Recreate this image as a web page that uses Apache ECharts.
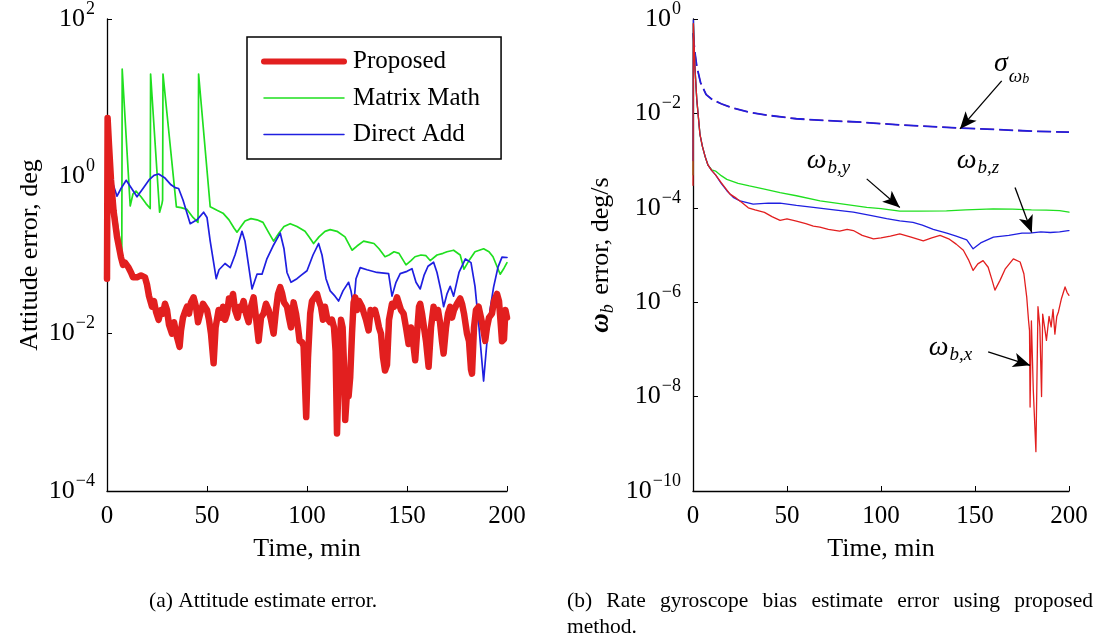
<!DOCTYPE html>
<html><head><meta charset="utf-8">
<script src="https://cdn.jsdelivr.net/npm/echarts@6/dist/echarts.min.js"></script>
<style>html,body{margin:0;padding:0;background:#fff}#c{width:1098px;height:639px}</style>
</head><body><div id="c"></div>
<script>
// ---------- data (time in min, errors) ----------
const xTicks = [0, 50, 100, 150, 200];
const legendNames = ['Proposed', 'Matrix Math', 'Direct Add'];

// (a) attitude error, deg
const proposed = [[0,0.05],[0.3,5.5],[1,2.5],[2,0.9],[3.3,0.36],[5,0.17],[7,0.093],[8,0.075],[9,0.08],[10.8,0.069],[12,0.06],[13,0.052],[15,0.052],[16,0.05],[17,0.055],[19,0.052],[20,0.042],[21,0.03],[22.5,0.022],[23.5,0.026],[24.5,0.019],[25.8,0.015],[27,0.02],[28,0.018],[29,0.024],[30,0.02],[31,0.013],[32.5,0.01],[33.5,0.014],[35,0.009],[36.3,0.0068],[37,0.011],[38,0.016],[39,0.019],[40,0.022],[41,0.018],[42,0.025],[43.3,0.029],[44.5,0.022],[45.5,0.014],[46.6,0.018],[48,0.024],[49,0.024],[50,0.02],[51,0.015],[52,0.01],[53.3,0.0042],[54.3,0.012],[55.8,0.02],[57,0.016],[58,0.022],[59,0.015],[60,0.018],[61,0.028],[62,0.024],[63,0.032],[64,0.02],[65.3,0.016],[66.3,0.022],[67,0.02],[68.3,0.026],[69.5,0.018],[70.8,0.014],[72,0.022],[73.3,0.029],[74.5,0.016],[75.8,0.0081],[77,0.016],[78.3,0.018],[79.5,0.024],[80.8,0.02],[82,0.015],[83.3,0.01],[84.5,0.02],[85.5,0.032],[86.6,0.039],[87.5,0.033],[88.5,0.025],[90,0.022],[91,0.016],[92,0.012],[93.3,0.025],[94.5,0.018],[95.5,0.012],[96.3,0.0081],[97.5,0.0078],[98.3,0.007],[99.6,0.00087],[100.5,0.005],[101.6,0.018],[102.5,0.026],[103.5,0.025],[105,0.032],[106,0.026],[107,0.022],[108,0.015],[109,0.022],[110,0.016],[111.5,0.014],[112.5,0.015],[113.5,0.012],[114.3,0.006],[115,0.00054],[116,0.004],[117,0.015],[117.8,0.012],[118.5,0.004],[119.1,0.0008],[120,0.0018],[120.8,0.0016],[121.6,0.0028],[122.5,0.01],[123.3,0.025],[124.1,0.029],[125,0.02],[126,0.026],[127.5,0.022],[128.5,0.018],[129.5,0.015],[130.8,0.011],[131.8,0.02],[133,0.018],[134,0.02],[135,0.016],[136,0.012],[137,0.01],[138,0.005],[139,0.0034],[140,0.004],[141,0.015],[142.5,0.024],[143.5,0.022],[145,0.029],[146,0.024],[147,0.02],[148.3,0.018],[149.5,0.012],[150.8,0.0074],[152,0.012],[153,0.008],[154.1,0.0046],[155,0.01],[156,0.022],[156.6,0.024],[157.5,0.018],[158.5,0.012],[159.5,0.008],[160.8,0.0038],[162,0.012],[163.3,0.022],[164.5,0.016],[165.5,0.02],[166.5,0.014],[167.5,0.008],[168.3,0.0056],[169.5,0.012],[170.5,0.018],[171.6,0.022],[172.5,0.016],[173.5,0.02],[175,0.024],[176.6,0.028],[177.5,0.024],[178.5,0.018],[180,0.01],[181,0.008],[182,0.0035],[182.5,0.0031],[183.5,0.012],[184.5,0.02],[185.8,0.022],[187,0.016],[188,0.012],[189.1,0.0081],[190,0.012],[191,0.016],[192.5,0.018],[193.5,0.026],[195,0.032],[196,0.026],[197,0.012],[197.5,0.008],[198.5,0.0085],[199.2,0.02],[200,0.016]];

const matrixMath = [[0,0.05],[0.3,1.6],[2,0.9],[4,0.4],[6,0.18],[7.4,0.11],[7.6,23],[11.6,0.42],[13,0.6],[14.5,0.65],[17,0.55],[19.5,0.45],[21.6,0.39],[21.8,20],[26.3,0.35],[27.5,0.45],[27.8,0.5],[28,20],[34.7,0.41],[37,0.4],[40,0.38],[43,0.3],[45.5,0.26],[45.8,20],[51.6,0.41],[55,0.37],[58,0.34],[61,0.28],[63.5,0.22],[65,0.195],[67,0.23],[69,0.27],[72,0.29],[75,0.28],[78,0.26],[80.5,0.2],[83.3,0.15],[86,0.19],[88.5,0.23],[91.6,0.25],[95,0.23],[99,0.2],[101,0.17],[103.3,0.14],[106,0.17],[109,0.2],[111.6,0.21],[115,0.2],[119,0.17],[122.5,0.115],[125,0.13],[128.3,0.15],[131,0.145],[133.5,0.14],[136,0.12],[139,0.095],[141,0.1],[143.5,0.11],[146,0.105],[149.5,0.075],[152,0.085],[154,0.095],[157,0.1],[159.5,0.098],[161.6,0.085],[165,0.1],[168,0.105],[170,0.11],[173.3,0.115],[176.6,0.1],[178.5,0.066],[181,0.085],[184,0.11],[188.3,0.12],[191,0.11],[193,0.095],[196.6,0.057],[198.5,0.068],[200,0.08]];

const directAdd = [[0,0.05],[0.3,2.8],[1.5,1.5],[3,0.8],[5,0.56],[7,0.7],[9.6,0.89],[12,0.72],[15,0.55],[18,0.7],[21,0.9],[23.5,1.03],[25.8,1.07],[29,0.95],[32,0.78],[34,0.72],[35.8,0.7],[38,0.5],[41.6,0.25],[45,0.28],[48.3,0.35],[50,0.3],[51.6,0.15],[54.6,0.05],[56,0.065],[59,0.078],[61.6,0.069],[64,0.1],[67.5,0.2],[69,0.15],[72.5,0.037],[75,0.057],[77.5,0.057],[80,0.09],[83,0.13],[86.6,0.19],[88.5,0.12],[90,0.06],[92,0.045],[95,0.05],[97,0.055],[100,0.063],[103,0.1],[105.8,0.14],[107.5,0.1],[109.5,0.05],[111.6,0.035],[114,0.03],[115.8,0.026],[118,0.035],[120.8,0.045],[122,0.035],[123.3,0.022],[124.5,0.05],[126.6,0.069],[130,0.065],[135,0.06],[140.8,0.058],[142.5,0.03],[144.5,0.045],[146.6,0.058],[150,0.062],[152.5,0.067],[154.5,0.045],[156.6,0.037],[158.5,0.055],[160.5,0.072],[163.3,0.081],[165,0.06],[167,0.035],[168.3,0.022],[170,0.032],[171.6,0.04],[173.3,0.03],[176,0.06],[179.2,0.089],[182,0.08],[184,0.04],[186,0.012],[188.3,0.0025],[190,0.008],[191.5,0.02],[193.3,0.039],[195.5,0.07],[197.5,0.094],[200,0.093]];

// (b) gyro bias error, deg/s
const sigmaBound = [[0,0.5],[1,0.2],[2,0.1],[4,0.045],[7,0.025],[10,0.02],[15,0.016],[20,0.0135],[30,0.0105],[40,0.0091],[55,0.0077],[70,0.0071],[90,0.0065],[110,0.0057],[130,0.0052],[142,0.0049],[160,0.0046],[180,0.0042],[200,0.004]];

const biasX = [[0,3e-4],[0.2,0.8],[1,0.1],[2,0.02],[3.7,3.6e-3],[5,2e-3],[6.5,1.2e-3],[8,8e-4],[9.9,6.2e-4],[12,5e-4],[15,3.4e-4],[19.7,1.95e-4],[23,1.6e-4],[26,1.3e-4],[29.4,1.0e-4],[33,9e-5],[38,8e-5],[42,6.5e-5],[46.3,5.4e-5],[50,5.8e-5],[55,5.2e-5],[60,4.6e-5],[64,4.1e-5],[67.5,3.9e-5],[72,3.5e-5],[78,3.2e-5],[82,3.5e-5],[85.3,3.3e-5],[90,2.6e-5],[96,2.2e-5],[100,2.3e-5],[105,2.5e-5],[110,2.8e-5],[116,2.4e-5],[122.5,2.0e-5],[127,2.3e-5],[131.4,2.6e-5],[136,2.2e-5],[140,1.7e-5],[143.8,1.26e-5],[146.5,8e-6],[149,4.7e-6],[151.5,6.5e-6],[154.3,7.6e-6],[157,5.5e-6],[159,3e-6],[160.6,1.8e-6],[163.3,2.9e-6],[166,5e-6],[170.4,8.3e-6],[174,7.1e-6],[176,4e-6],[177.5,1.3e-6],[178.5,4e-7],[179,2.5e-7],[179.3,6e-9],[180,4e-7],[181,1.4e-8],[182.4,6.8e-10],[183.5,8e-7],[184.5,3e-7],[185.4,1e-8],[186,5.6e-7],[187,3e-7],[188,1.55e-7],[189.4,5e-7],[190.5,3e-7],[191.5,7e-7],[192.5,2.1e-7],[193.5,5e-7],[194.4,6.3e-7],[196,1.2e-6],[197.9,2.1e-6],[199,1.6e-6],[200,1.4e-6]];

const biasY = [[0,5e-4],[0.2,0.8],[1,0.1],[2,0.02],[3.7,3.6e-3],[5,2e-3],[6.5,1.2e-3],[8,8e-4],[9.9,6.4e-4],[12,6e-4],[15,4.8e-4],[18,4e-4],[24,3.3e-4],[30,2.9e-4],[38,2.5e-4],[46.3,2.1e-4],[55,1.8e-4],[67.6,1.4e-4],[80,1.2e-4],[92.4,1.02e-4],[100,9.6e-5],[110,8.5e-5],[120,8.5e-5],[134.8,8.6e-5],[145,9e-5],[159.7,9.5e-5],[170,9.4e-5],[180,9e-5],[188,8.9e-5],[195,8.7e-5],[200,8.1e-5]];

const biasZ = [[0,1e-3],[0.2,0.95],[1,0.1],[2,0.02],[3.7,3.6e-3],[5,2e-3],[6.5,1.2e-3],[8,8e-4],[9.9,6.2e-4],[12,5e-4],[15,3.3e-4],[18,2.3e-4],[21.4,1.66e-4],[25,1.4e-4],[32,1.2e-4],[40,1.25e-4],[46.3,1.26e-4],[55,1.12e-4],[64,1.02e-4],[75,9e-5],[85.3,8.1e-5],[95,6.8e-5],[103,5.9e-5],[110,5.3e-5],[117,4.9e-5],[122,4.3e-5],[127.8,3.5e-5],[135,2.9e-5],[140,2.5e-5],[145.6,2.1e-5],[149,1.35e-5],[153,1.8e-5],[159.8,2.4e-5],[168,2.6e-5],[175,2.9e-5],[179,2.9e-5],[185,3.1e-5],[190,3.0e-5],[195,3.1e-5],[199.6,3.3e-5],[200,3.3e-5]];

// annotation arrows (tail -> head) and label anchors in data space
const arrows = [
  [[164.2, 0.049], [142, 0.0047]],
  [[92.4, 4.1e-4], [110, 1.02e-4]],
  [[171.3, 2.7e-4], [180.2, 3.0e-5]],
  [[157, 8.9e-8], [179.3, 4.6e-8]]
];
const annoLabels = [
  { at: [169.5, 0.112], main: 'σ', sub: 'ω', sub2: 'b', drop: 26 },
  { at: [72, 1.0e-3], main: 'ω', sub: 'b,y', drop: 15 },
  { at: [151.6, 1.0e-3], main: 'ω', sub: 'b,z', drop: 15 },
  { at: [137, 1.1e-7], main: 'ω', sub: 'b,x', drop: 15 }
];
const captionA = '(a) Attitude estimate error.';
const captionB1 = '(b) Rate gyroscope bias estimate error using proposed';
const captionB2 = 'method.';

// ---------- styles ----------
const FONT = 'Liberation Serif';
const RED = '#e21f1f', GREEN = '#1fdf1f', BLUE = '#1f1fe0';

function powLabel(v) {
  const e = Math.round(Math.log10(v));
  const s = e < 0 ? '\u2212' + (-e) : String(e);
  return '{b|10}{s|' + s + '}';
}
const powRich = {
  b: { fontFamily: FONT, fontSize: 26, color: '#000' },
  s: { fontFamily: FONT, fontSize: 18, color: '#000', padding: [0, 0, 20, 1] }
};

function xAxisCfg(gi) {
  return {
    gridIndex: gi, type: 'value', min: 0, max: 200, interval: 50,
    name: 'Time, min', nameLocation: 'middle', nameGap: 45,
    nameTextStyle: { fontFamily: FONT, fontSize: 26, color: '#000' },
    axisLine: { lineStyle: { color: '#000', width: 1.3 } },
    axisTick: { inside: true, length: 5, lineStyle: { color: '#000' } },
    axisLabel: { fontFamily: FONT, fontSize: 25, color: '#000', margin: 13 },
    splitLine: { show: false }
  };
}
function yAxisCfg(gi, min, max, name, nameGap, nameRich) {
  return {
    gridIndex: gi, type: 'log', logBase: 100, min: min, max: max,
    name: name, nameLocation: 'middle', nameGap: nameGap,
    nameTextStyle: { fontFamily: FONT, fontSize: 26, color: '#000', rich: nameRich },
    axisLine: { lineStyle: { color: '#000', width: 1.3 } },
    axisTick: { inside: true, length: 5, lineStyle: { color: '#000' } },
    axisLabel: { formatter: powLabel, rich: powRich, margin: 12 },
    splitLine: { show: false }, minorTick: { show: false }
  };
}
function line(name, data, color, width, xi, yi, extra) {
  return Object.assign({
    name: name, type: 'line', data: data, xAxisIndex: xi, yAxisIndex: yi,
    symbol: 'none', silent: true,
    lineStyle: { color: color, width: width, cap: 'round', join: 'round' },
    itemStyle: { color: color }
  }, extra || {});
}

const chart = echarts.init(document.getElementById('c'), null, { renderer: 'canvas' });
chart.setOption({
  animation: false,
  backgroundColor: '#fff',
  grid: [
    { left: 107, top: 18, width: 400, height: 473 },
    { left: 693, top: 18, width: 376, height: 473 }
  ],
  xAxis: [xAxisCfg(0), xAxisCfg(1)],
  yAxis: [
    yAxisCfg(0, 1e-4, 1e2, 'Attitude error, deg', 64, {}),
    yAxisCfg(1, 1e-10, 1, '{w|ω}{bb|b} error, deg/s', 76, {
      w: { fontFamily: FONT, fontSize: 27, fontWeight: 'bold', fontStyle: 'italic', color: '#000' },
      bb: { fontFamily: FONT, fontSize: 18, fontStyle: 'italic', color: '#000', padding: [14, 3, 0, 0] }
    })
  ],
  legend: {
    orient: 'vertical', left: 247, top: 37,
    padding: [12, 21, 12, 14], itemWidth: 80, itemHeight: 20, itemGap: 11.5,
    borderColor: '#000', borderWidth: 1.5, selectedMode: false,
    itemStyle: { opacity: 0 },
    textStyle: { fontFamily: FONT, fontSize: 25, color: '#000', lineHeight: 24, padding: [0, 0, 0, 4] },
    data: [
      { name: legendNames[0], lineStyle: { width: 6, color: RED }, itemStyle: { opacity: 0 } },
      { name: legendNames[1], lineStyle: { width: 1.5, color: GREEN }, itemStyle: { opacity: 0 } },
      { name: legendNames[2], lineStyle: { width: 1.5, color: BLUE }, itemStyle: { opacity: 0 } }
    ]
  },
  series: [
    line('Matrix Math', matrixMath, GREEN, 1.7, 0, 0),
    line('Direct Add', directAdd, BLUE, 1.7, 0, 0),
    line('Proposed', proposed, RED, 6.5, 0, 0, { z: 3 }),
    line('σ red', sigmaBound, RED, 1.3, 1, 1, { lineStyle: { color: RED, width: 1.3, type: [14, 5] } }),
    line('σ', sigmaBound, BLUE, 1.8, 1, 1, {
      lineStyle: { color: BLUE, width: 1.8, type: [14, 5] },
      markLine: {
        silent: true, symbol: ['none', 'arrow'], symbolSize: [11, 17],
        label: { show: false },
        lineStyle: { color: '#000', width: 1.3, type: 'solid' },
        data: arrows.map(a => [{ coord: a[0] }, { coord: a[1] }])
      }
    }),
    line('ωb,y', biasY, GREEN, 1.3, 1, 1),
    line('ωb,z', biasZ, BLUE, 1.3, 1, 1),
    line('ωb,x', biasX, RED, 1.3, 1, 1)
  ]
});

// annotation texts
const g = [];
annoLabels.forEach(l => {
  const p = chart.convertToPixel({ gridIndex: 1 }, l.at);
  g.push({ type: 'text', x: p[0], y: p[1], style: {
    text: '{m|' + l.main + '}{s|' + l.sub + '}' + (l.sub2 ? '{t|' + l.sub2 + '}' : ''),
    align: 'center', verticalAlign: 'middle',
    rich: {
      m: { fontFamily: FONT, fontStyle: 'italic', fontSize: 28, fill: '#000' },
      s: { fontFamily: FONT, fontStyle: 'italic', fontSize: 19, fill: '#000', padding: [l.drop, 0, 0, 1] },
      t: { fontFamily: FONT, fontStyle: 'italic', fontSize: 14, fill: '#000', padding: [l.drop + 4, 0, 0, 0] }
    }
  }});
});

// captions (second caption line justified like the original)
const CAP = 21.5;
const cv = document.createElement('canvas').getContext('2d');
cv.font = CAP + 'px "' + FONT + '"';
g.push({ type: 'text', x: 263, y: 601, style: { text: captionA, fontFamily: FONT, fontSize: CAP, fill: '#000', align: 'center', verticalAlign: 'middle' } });
const words = captionB1.split(' ');
const left = 567, right = 1093;
const total = words.reduce((s, w) => s + cv.measureText(w).width, 0);
const gap = (right - left - total) / (words.length - 1);
let xx = left;
words.forEach(w => {
  g.push({ type: 'text', x: xx, y: 601, style: { text: w, fontFamily: FONT, fontSize: CAP, fill: '#000', align: 'left', verticalAlign: 'middle' } });
  xx += cv.measureText(w).width + gap;
});
g.push({ type: 'text', x: left, y: 627, style: { text: captionB2, fontFamily: FONT, fontSize: CAP, fill: '#000', align: 'left', verticalAlign: 'middle' } });
chart.setOption({ graphic: g });
</script>
</body></html>
